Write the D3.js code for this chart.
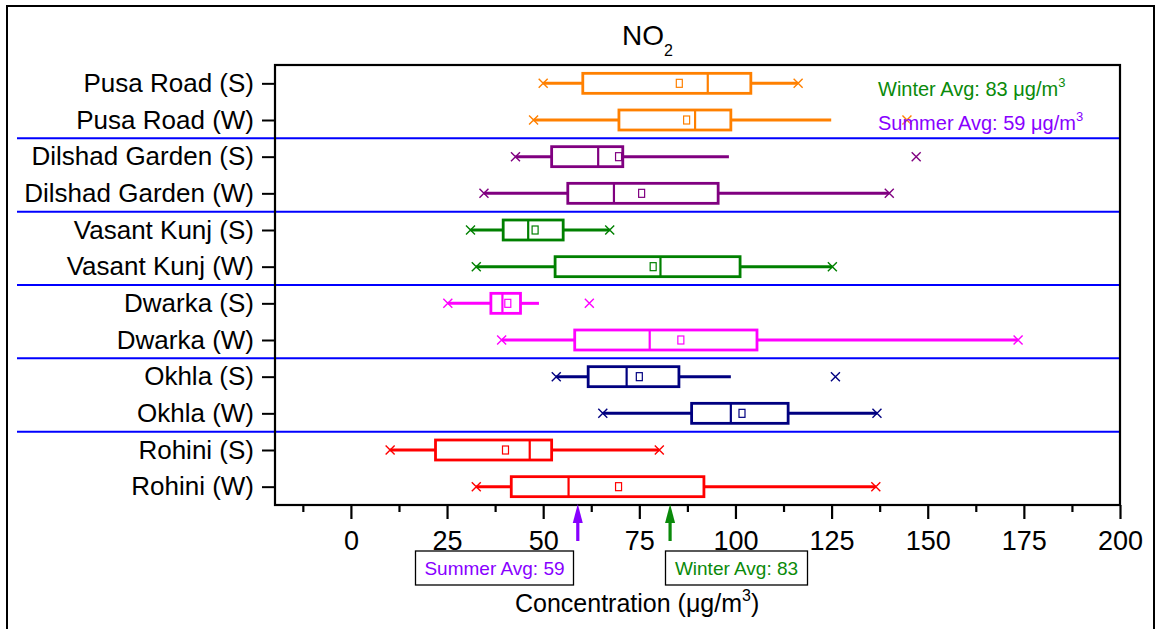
<!DOCTYPE html>
<html>
<head>
<meta charset="utf-8">
<script src="https://cdn.jsdelivr.net/npm/d3@7"></script>
<style>
  html, body { margin: 0; padding: 0; background: #fff; }
  svg { display: block; }
  text { font-family: "Liberation Sans", Arial, sans-serif; }
</style>
</head>
<body>
<svg id="chart" width="1157" height="629"></svg>
<script>
// ---------- data ----------
const categories = [
  "Pusa Road (S)", "Pusa Road (W)",
  "Dilshad Garden (S)", "Dilshad Garden (W)",
  "Vasant Kunj (S)", "Vasant Kunj (W)",
  "Dwarka (S)", "Dwarka (W)",
  "Okhla (S)", "Okhla (W)",
  "Rohini (S)", "Rohini (W)"
];
const colors = [
  "#ff8000", "#ff8000",
  "#800080", "#800080",
  "#008000", "#008000",
  "#ff00ff", "#ff00ff",
  "#000080", "#000080",
  "#ff0000", "#ff0000"
];
const whiskerLow  = [50.0, 47.5, 42.8, 34.6, 31.1, 32.6, 25.2, 39.2, 53.4, 65.5, 10.2, 32.6];
const q1          = [60.3, 69.7, 52.2, 56.4, 39.6, 53.1, 36.4, 58.2, 61.7, 88.6, 22.0, 41.7];
const median      = [92.8, 89.5, 64.3, 68.4, 46.1, 80.5, 39.4, 77.7, 71.7, 98.8, 46.5, 56.6];
const q3          = [104.0, 98.8, 70.7, 95.5, 55.2, 101.2, 44.1, 105.6, 85.3, 113.7, 52.2, 91.8];
const whiskerHigh = [116.3, 124.9, 98.3, 140.0, 67.3, 125.2, 48.9, 173.5, 98.8, 136.8, 80.2, 136.5];
const meanValues  = [85.4, 87.3, 69.6, 75.6, 47.9, 78.6, 40.8, 85.8, 75.0, 101.7, 40.2, 69.6];
const minMarks    = [50.0, 47.5, 42.8, 34.6, 31.1, 32.6, 25.2, 39.2, 53.4, 65.5, 10.2, 32.6];
const maxMarks    = [116.3, 144.6, 147.0, 140.0, 67.3, 125.2, 62.0, 173.5, 126.0, 136.8, 80.2, 136.5];

const separatorsAfter = [1, 3, 5, 7, 9];   // group boundaries (after row index)
const majorTicks = [0, 25, 50, 75, 100, 125, 150, 175, 200];
const minorTicks = [-12.5, 12.5, 37.5, 62.5, 87.5, 112.5, 137.5, 162.5, 187.5];
const summerAvg = 59;
const winterAvg = 83;
const xDomain = [-20, 200];

// ---------- layout ----------
const svg = d3.select("#chart");
const plot = { left: 274, right: 1120, top: 65, bottom: 505 };
const FONT = "'Liberation Sans', Arial, sans-serif";
const PURPLE = "#8800ff";
const GREEN = "#0a8a0a";

const x = d3.scaleLinear().domain(xDomain).range([plot.left, plot.right]);
const y = d3.scalePoint().domain(categories).range([plot.top, plot.bottom]).padding(0.5);
const step = y.step();

svg.append("rect").attr("width", 1157).attr("height", 629).attr("fill", "#fff");

// outer frame
svg.append("rect").attr("x", 7).attr("y", 6).attr("width", 1147).attr("height", 640)
  .attr("fill", "none").attr("stroke", "#000").attr("stroke-width", 2);

// title
const title = svg.append("text").attr("x", 622).attr("y", 45)
  .attr("font-size", 28).attr("fill", "#000");
title.append("tspan").text("NO");
title.append("tspan").attr("dy", 11).attr("font-size", 16).text("2");

// group separators
svg.append("g").selectAll("line").data(separatorsAfter).join("line")
  .attr("x1", 17).attr("x2", plot.right)
  .attr("y1", d => y(categories[d]) + step / 2)
  .attr("y2", d => y(categories[d]) + step / 2)
  .attr("stroke", "#0000ff").attr("stroke-width", 2);

// plot frame
svg.append("rect").attr("x", plot.left + 1).attr("y", plot.top)
  .attr("width", plot.right - plot.left - 1).attr("height", plot.bottom - plot.top)
  .attr("fill", "none").attr("stroke", "#000").attr("stroke-width", 2.2);

// y axis
const yAxis = d3.axisLeft(y).tickSize(13).tickPadding(8);
const gy = svg.append("g").attr("transform", `translate(${plot.left + 1},0)`).call(yAxis);
gy.select(".domain").remove();
gy.selectAll(".tick line").attr("stroke", "#000").attr("stroke-width", 2);
gy.selectAll(".tick text").attr("font-size", 26).attr("font-family", FONT).attr("fill", "#000");

// x axis major
const xAxis = d3.axisBottom(x).tickValues(majorTicks).tickSize(14).tickPadding(12)
  .tickFormat(d3.format("d"));
const gx = svg.append("g").attr("transform", `translate(0,${plot.bottom})`).call(xAxis);
gx.select(".domain").remove();
gx.selectAll(".tick line").attr("stroke", "#000").attr("stroke-width", 2.2);
gx.selectAll(".tick text").attr("font-size", 27).attr("font-family", FONT).attr("fill", "#000");
// x axis minor
const gxm = svg.append("g").attr("transform", `translate(0,${plot.bottom})`)
  .call(d3.axisBottom(x).tickValues(minorTicks).tickSize(7).tickFormat(""));
gxm.select(".domain").remove();
gxm.selectAll(".tick line").attr("stroke", "#000").attr("stroke-width", 2.2);

// boxes
const rows = categories.map((c, i) => ({
  c, i, color: colors[i], lo: whiskerLow[i], q1: q1[i], med: median[i], q3: q3[i],
  hi: whiskerHigh[i], mean: meanValues[i], mn: minMarks[i], mx: maxMarks[i]
}));
const boxH = 20;
const g = svg.append("g");
rows.forEach(r => {
  const cy = y(r.c);
  const gg = g.append("g");
  // whiskers
  gg.append("line").attr("x1", x(r.lo)).attr("x2", x(r.q1)).attr("y1", cy).attr("y2", cy)
    .attr("stroke", r.color).attr("stroke-width", 3);
  gg.append("line").attr("x1", x(r.q3)).attr("x2", x(r.hi)).attr("y1", cy).attr("y2", cy)
    .attr("stroke", r.color).attr("stroke-width", 3);
  // box
  gg.append("rect").attr("x", x(r.q1)).attr("y", cy - boxH / 2)
    .attr("width", x(r.q3) - x(r.q1)).attr("height", boxH)
    .attr("fill", "#fff").attr("stroke", r.color).attr("stroke-width", 2.8);
  // median
  gg.append("line").attr("x1", x(r.med)).attr("x2", x(r.med))
    .attr("y1", cy - boxH / 2).attr("y2", cy + boxH / 2)
    .attr("stroke", r.color).attr("stroke-width", 2.2);
  // mean
  gg.append("rect").attr("x", x(r.mean) - 3).attr("y", cy - 4).attr("width", 6).attr("height", 8)
    .attr("fill", "#fff").attr("stroke", r.color).attr("stroke-width", 1.2);
  // min / max crosses
  [r.mn, r.mx].forEach(v => {
    const px = x(v), s = 4.5;
    gg.append("path")
      .attr("d", `M${px - s},${cy - s}L${px + s},${cy + s}M${px - s},${cy + s}L${px + s},${cy - s}`)
      .attr("stroke", r.color).attr("stroke-width", 1.4).attr("fill", "none");
  });
});

// legend text (top right)
function unitText(xPos, yPos, label, color) {
  const t = svg.append("text").attr("x", xPos).attr("y", yPos).attr("font-size", 20).attr("fill", color);
  t.append("tspan").text(label + " \u03BCg/m");
  t.append("tspan").attr("dy", -9).attr("font-size", 13).text("3");
  return t;
}
unitText(878, 96, "Winter Avg: " + winterAvg, GREEN);
unitText(878, 130, "Summer Avg: " + summerAvg, PURPLE);

// arrows for averages
function arrow(v, color) {
  const px = x(v);
  svg.append("line").attr("x1", px).attr("x2", px).attr("y1", 541).attr("y2", 518)
    .attr("stroke", color).attr("stroke-width", 3.2);
  svg.append("path").attr("d", `M${px},${plot.bottom - 1}L${px - 5},${plot.bottom + 18}L${px + 5},${plot.bottom + 18}Z`)
    .attr("fill", color);
}
arrow(summerAvg, PURPLE);
arrow(winterAvg, GREEN);

// annotation boxes
function annot(x0, x1, label, color) {
  svg.append("rect").attr("x", x0).attr("y", 551).attr("width", x1 - x0).attr("height", 34)
    .attr("fill", "#fff").attr("stroke", "#000").attr("stroke-width", 1.3);
  svg.append("text").attr("x", (x0 + x1) / 2).attr("y", 575).attr("text-anchor", "middle")
    .attr("font-size", 19).attr("fill", color).text(label);
}
annot(415.5, 573.5, "Summer Avg: " + summerAvg, PURPLE);
annot(665.5, 807.5, "Winter Avg: " + winterAvg, GREEN);

// x axis title
const xt = svg.append("text").attr("x", 515).attr("y", 612).attr("font-size", 25).attr("fill", "#000");
xt.append("tspan").text("Concentration (\u03BCg/m");
xt.append("tspan").attr("dy", -11).attr("font-size", 16).text("3");
xt.append("tspan").attr("dy", 11).text(")");
</script>
</body>
</html>
